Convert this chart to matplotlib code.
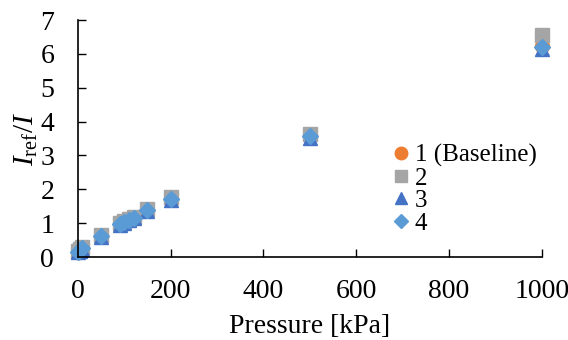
import matplotlib.pyplot as plt

# pressure [kPa] and I_ref/I for each run
pressure = [1, 5, 10, 50, 90, 100, 110, 120, 150, 200, 500, 1000]
run1 = [0.16, 0.21, 0.27, 0.62, 0.98, 1.04, 1.10, 1.16, 1.38, 1.72, 3.57, 6.22]
run2 = [0.18, 0.23, 0.30, 0.65, 1.01, 1.07, 1.13, 1.19, 1.41, 1.76, 3.62, 6.57]
run3 = [0.14, 0.19, 0.25, 0.60, 0.96, 1.02, 1.08, 1.14, 1.35, 1.68, 3.52, 6.15]
run4 = [0.16, 0.21, 0.27, 0.62, 0.98, 1.04, 1.10, 1.16, 1.38, 1.71, 3.57, 6.20]
labels = ["1 (Baseline)", "2", "3", "4"]

plt.rcParams["font.family"] = ["Liberation Serif", "DejaVu Serif"]
plt.rcParams["mathtext.fontset"] = "custom"
plt.rcParams["mathtext.rm"] = "Liberation Serif"
plt.rcParams["mathtext.it"] = "Liberation Serif:italic"

fig = plt.figure(figsize=(5.68, 3.40), dpi=100)
ax = fig.add_axes([0.137, 0.244, 0.817, 0.697])

ax.plot(pressure, run1, "o", color="#ED7D31", ms=10, label=labels[0], clip_on=False)
ax.plot(pressure, run2, "s", color="#A5A5A5", ms=9.5, label=labels[1], clip_on=False)
ax.plot(pressure, run3, "^", color="#4472C4", ms=10, label=labels[2], clip_on=False)
ax.plot(pressure, run4, "D", color="#5B9BD5", ms=8, label=labels[3], clip_on=False)

ax.set_xlim(0, 1000)
ax.set_ylim(0, 7)
ax.set_xticks([0, 200, 400, 600, 800, 1000])
ax.set_yticks(range(8))
ax.tick_params(direction="in", labelsize=20, length=6, width=1)
ax.tick_params(axis="x", pad=16)
ax.tick_params(axis="y", pad=17)
for s in ["top", "right"]:
    ax.spines[s].set_visible(False)
ax.spines["left"].set_linewidth(1.2)
ax.spines["bottom"].set_linewidth(1.2)

ax.set_xlabel("Pressure [kPa]", fontsize=20, labelpad=7)
ax.set_ylabel(r"$I_{\mathrm{ref}}/I$", fontsize=21, labelpad=0)

ax.legend(loc="upper left", bbox_to_anchor=(0.64, 0.53), frameon=False,
          fontsize=18, handletextpad=0.0, labelspacing=0.0, borderpad=0,
          handlelength=1.1, markerscale=0.9)

fig.savefig("out.png", dpi=100)
